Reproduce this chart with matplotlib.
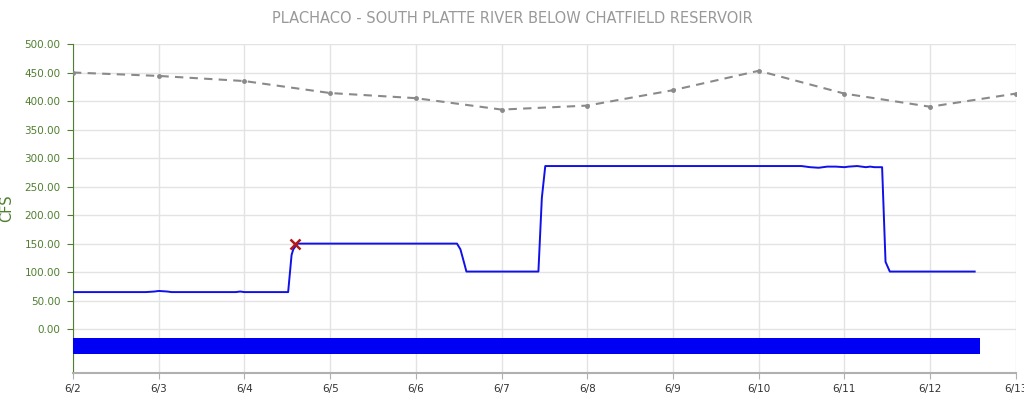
import matplotlib
matplotlib.use("Agg")
import matplotlib.pyplot as plt
import matplotlib.dates as mdates
import pandas as pd

start = pd.Timestamp("2023-06-02")

# daily forecast (gray dashed line)
forecast_days = ["2023-06-02", "2023-06-03", "2023-06-04", "2023-06-05", "2023-06-06", "2023-06-07",
                 "2023-06-08", "2023-06-09", "2023-06-10", "2023-06-11", "2023-06-12", "2023-06-13"]
forecast_cfs = [450, 444, 435, 414, 405, 385, 392, 419, 453, 413, 390, 413]

# observed flow (blue line), time in days after 6/2 00:00
flow_t = [0.0, 0.85, 0.95, 1.0, 1.1, 1.15, 1.9, 1.95, 2.0, 2.51, 2.55, 2.57, 2.62,
          4.48, 4.52, 4.56, 4.59, 5.43, 5.47, 5.51, 8.5, 8.6, 8.7, 8.8, 8.9, 9.0, 9.05,
          9.15, 9.25, 9.3, 9.35, 9.44, 9.48, 9.53, 10.52]
flow_cfs = [65, 65, 66, 67, 66, 65, 65, 66, 65, 65, 130, 140, 150,
            150, 140, 118, 101, 101, 230, 286, 286, 284, 283, 285, 285, 284, 285,
            286, 284, 285, 284, 284, 118, 101, 101]

# marker on the flow line
mark_t = 2.59
mark_cfs = 150

# status bar below zero
bar_start = 0.0
bar_end = 10.58

xticks = ["6/2", "6/3", "6/4", "6/5", "6/6", "6/7", "6/8", "6/9", "6/10", "6/11", "6/12", "6/13"]

green = "#4f7f2f"

fig = plt.figure(figsize=(10.24, 4.15), dpi=100)
ax = fig.add_axes([0.0713, 0.101, 0.9207, 0.793])

fx = pd.to_datetime(forecast_days)
ax.plot(fx, forecast_cfs, color="#8a8a8a", linestyle=(0, (4, 3)), linewidth=1.5,
        marker="o", markersize=2.5, zorder=3)

tx = [start + pd.Timedelta(days=d) for d in flow_t]
ax.plot(tx, flow_cfs, color="#1010e8", linewidth=1.4, zorder=4)
ax.plot([start + pd.Timedelta(days=mark_t)], [mark_cfs], marker="x", color="#b01818",
        markersize=7, markeredgewidth=1.8, linestyle="none", zorder=5)

b0 = mdates.date2num(start + pd.Timedelta(days=bar_start))
b1 = mdates.date2num(start + pd.Timedelta(days=bar_end))
ax.barh(-30, b1 - b0, left=b0, height=28, color="#0000f5", zorder=3)

ax.set_ylim(-77, 500)
ax.set_xlim(fx[0], fx[-1])
ax.set_yticks(range(0, 501, 50))
ax.set_yticklabels([f"{v:.2f}" for v in range(0, 501, 50)])
ax.set_xticks(fx)
ax.set_xticklabels(xticks)

ax.grid(True, color="#e3e3e3", linewidth=1)
ax.set_axisbelow(True)
for s in ["top", "right"]:
    ax.spines[s].set_visible(False)
ax.spines["left"].set_color(green)
ax.spines["bottom"].set_color("#b0b0b0")
ax.spines["bottom"].set_linewidth(1.5)
ax.tick_params(axis="y", colors=green, labelsize=7.5, length=4, pad=5)
ax.tick_params(axis="x", colors="#b0b0b0", labelcolor="#333333", labelsize=7.5, length=4)

ax.set_ylabel("CFS", color=green, fontsize=10.5)
ax.yaxis.set_label_coords(-0.062, 0.5)
fig.text(0.5, 0.955, "PLACHACO - SOUTH PLATTE RIVER BELOW CHATFIELD RESERVOIR",
         ha="center", va="center", color="#999999", fontsize=10.5)

fig.savefig("out.png", dpi=100)
